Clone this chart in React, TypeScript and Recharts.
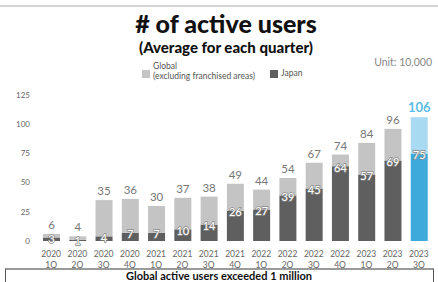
import React from "react";
import { BarChart, Bar, XAxis, YAxis, Cell, LabelList } from "recharts";

const years = ["2020", "2020", "2020", "2020", "2021", "2021", "2021", "2021", "2022", "2022", "2022", "2022", "2023", "2023", "2023"];
const quarters = ["1Q", "2Q", "3Q", "4Q", "1Q", "2Q", "3Q", "4Q", "1Q", "2Q", "3Q", "4Q", "1Q", "2Q", "3Q"];
const globalTotal = [6, 4, 35, 36, 30, 37, 38, 49, 44, 54, 67, 74, 84, 96, 106];
const japan = [3, 1, 4, 7, 7, 10, 14, 26, 27, 39, 45, 64, 57, 69, 75];
const yTicks = [0, 25, 50, 75, 100, 125];

const data = years.map((y, i) => ({
  name: `${y} ${quarters[i]}`,
  japan: japan[i],
  rest: globalTotal[i] - japan[i],
}));

const LAST = data.length - 1;
const FONT = "Lato, 'Noto Sans', sans-serif";

const XTick = (props: any) => {
  const { x, y, payload } = props;
  const [yr, q] = String(payload.value).split(" ");
  return (
    <g>
      <text x={x} y={y + 8} textAnchor="middle" fontSize={8.5} fill="#666" fontFamily={FONT}>{yr}</text>
      <text x={x} y={y + 19} textAnchor="middle" fontSize={8.5} fill="#666" fontFamily={FONT}>{q}</text>
    </g>
  );
};

const TotalLabel = (props: any) => {
  const { x, y, width, index } = props;
  const isLast = index === LAST;
  return (
    <text
      x={x + width / 2}
      y={y - 5}
      textAnchor="middle"
      fontSize={isLast ? 13 : 11.5}
      fontWeight={isLast ? 700 : 400}
      fill={isLast ? "#5bbde8" : "#777"}
      fontFamily={FONT}
    >
      {globalTotal[index]}
    </text>
  );
};

const JapanLabel = (props: any) => {
  const { x, y, width, index } = props;
  return (
    <text
      x={x + width / 2}
      y={y + 1}
      dominantBaseline="central"
      textAnchor="middle"
      fontSize={11}
      fill="#fff"
      stroke="#8a8a8a"
      strokeWidth={1.4}
      paintOrder="stroke"
      fontFamily={FONT}
    >
      {japan[index]}
    </text>
  );
};

export default function App() {
  return (
    <div style={{ position: "absolute", left: 0, top: 0, width: 438, height: 282, background: "#fff", overflow: "hidden", fontFamily: FONT }}>
      <div style={{ position: "absolute", left: 0, top: 5, width: 438, height: 2, background: "#d4d4d4" }} />
      <div style={{ position: "absolute", left: 0, top: 9, width: 452, textAlign: "center", fontSize: 25, fontWeight: 900, color: "#111", lineHeight: "28px" }}>
        # of active users
      </div>
      <div style={{ position: "absolute", left: 0, top: 38, width: 452, textAlign: "center", fontSize: 15, fontWeight: 900, color: "#111", lineHeight: "18px" }}>
        (Average for each quarter)
      </div>
      <div style={{ position: "absolute", right: 6, top: 55, fontSize: 10.5, color: "#888", lineHeight: "14px" }}>
        Unit: 10,000
      </div>
      <div style={{ position: "absolute", left: 142, top: 70, width: 8, height: 8, background: "#c4c4c4" }} />
      <div style={{ position: "absolute", left: 153, top: 62, fontSize: 8.5, color: "#555", lineHeight: "9.5px" }}>
        Global
        <br />
        (excluding franchised areas)
      </div>
      <div style={{ position: "absolute", left: 270, top: 70, width: 8, height: 8, background: "#5f5f5f" }} />
      <div style={{ position: "absolute", left: 281, top: 68, fontSize: 8.5, color: "#555", lineHeight: "11px" }}>
        Japan
      </div>
      <div style={{ position: "absolute", left: 0, top: 0 }}>
        <BarChart width={438} height={282} data={data} margin={{ top: 95, right: 6, left: 0, bottom: 13 }}>
          <XAxis dataKey="name" axisLine={false} tickLine={false} interval={0} height={28} tick={<XTick />} />
          <YAxis
            width={38}
            domain={[0, 125]}
            ticks={yTicks}
            axisLine={false}
            tickLine={false}
            tick={{ fontSize: 8, fill: "#666", fontFamily: FONT }}
          />
          <Bar dataKey="japan" stackId="a" barSize={17} isAnimationActive={false}>
            {data.map((d, i) => (
              <Cell key={d.name} fill={i === LAST ? "#3eaadc" : "#5f5f5f"} />
            ))}
            <LabelList dataKey="japan" content={<JapanLabel />} />
          </Bar>
          <Bar dataKey="rest" stackId="a" barSize={17} isAnimationActive={false}>
            {data.map((d, i) => (
              <Cell key={d.name} fill={i === LAST ? "#a8dbf1" : "#c4c4c4"} />
            ))}
            <LabelList dataKey="rest" content={<TotalLabel />} />
          </Bar>
        </BarChart>
      </div>
      <div style={{ position: "absolute", left: 5, top: 268, width: 427, height: 30, borderTop: "2px solid #9a9a9a", borderLeft: "1px solid #555", borderRight: "1px solid #555" }} />
      <div style={{ position: "absolute", left: 0, top: 270, width: 438, textAlign: "center", fontSize: 11, fontWeight: 700, color: "#111", lineHeight: "12px" }}>
        Global active users exceeded 1 million
      </div>
    </div>
  );
}
